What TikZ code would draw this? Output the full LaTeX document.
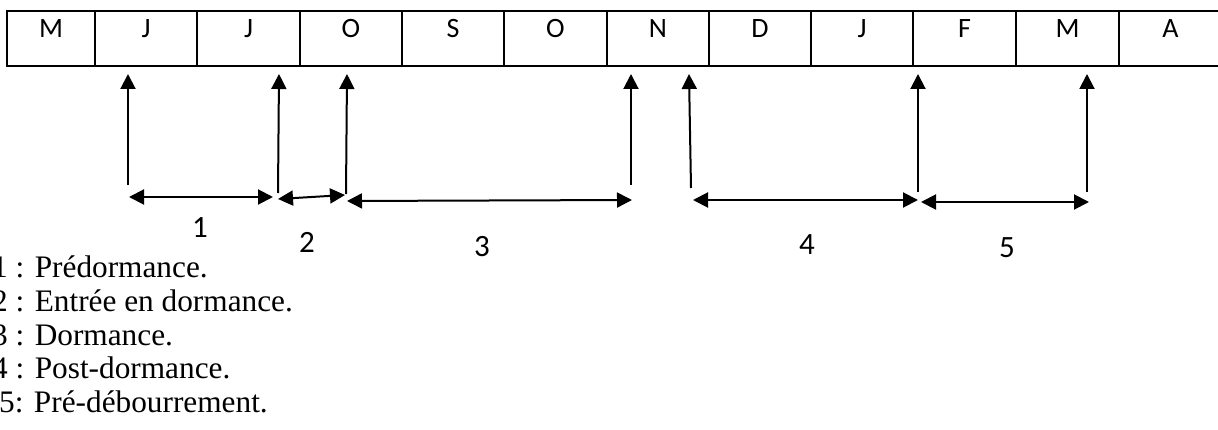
\documentclass[tikz,border=0pt]{standalone}
\usepackage{fontspec}
\setmainfont{Liberation Serif}
\newfontfamily\calib{Carlito}
\usetikzlibrary{arrows.meta}
\begin{document}
\begin{tikzpicture}[x=1pt,y=-1pt,
  cell/.style={draw,line width=2.4pt,minimum height=55pt,inner sep=0pt},
  month/.style={font=\calib\fontsize{28}{34}\selectfont,anchor=base,inner sep=0pt},
  lab/.style={font=\calib\fontsize{31}{36}\selectfont,anchor=base,inner sep=0pt},
  legend/.style={font=\fontsize{31.3}{35}\selectfont,anchor=base west,inner sep=0pt},
  tick/.style={line width=2pt,-{Triangle[length=15pt,width=15pt]}},
  span/.style={line width=2pt,{Triangle[length=15pt,width=15pt]}-{Triangle[length=15pt,width=15pt]}}]
\useasboundingbox (0,0) rectangle (1218,430);
% table cells
\node[cell,minimum width=88pt]  (c1)  at (51,38.5) {};
\node[cell,minimum width=102pt] (c2)  at (146,38.5) {};
\node[cell,minimum width=103pt] (c3)  at (248.5,38.5) {};
\node[cell,minimum width=102pt] (c4)  at (351,38.5) {};
\node[cell,minimum width=102pt] (c5)  at (453,38.5) {};
\node[cell,minimum width=103pt] (c6)  at (555.5,38.5) {};
\node[cell,minimum width=102pt] (c7)  at (658,38.5) {};
\node[cell,minimum width=102pt] (c8)  at (760,38.5) {};
\node[cell,minimum width=102pt] (c9)  at (862,38.5) {};
\node[cell,minimum width=103pt] (c10) at (964.5,38.5) {};
\node[cell,minimum width=103pt] (c11) at (1067.5,38.5) {};
\node[cell,minimum width=103pt] (c12) at (1170.5,38.5) {};
% month letters
\node[month] (m1)  at (51,38) {M};
\node[month] (m2)  at (146,38) {J};
\node[month] (m3)  at (248.5,38) {J};
\node[month] (m4)  at (351,38) {O};
\node[month] (m5)  at (453,38) {S};
\node[month] (m6)  at (555.5,38) {O};
\node[month] (m7)  at (658,38) {N};
\node[month] (m8)  at (760,38) {D};
\node[month] (m9)  at (862,38) {J};
\node[month] (m10) at (964.5,38) {F};
\node[month] (m11) at (1067.5,38) {M};
\node[month] (m12) at (1170.5,38) {A};
% vertical markers
\coordinate (t1) at (128,74);  \coordinate (b1) at (128,185);
\coordinate (t2) at (279,74);  \coordinate (b2) at (278,193);
\coordinate (t3) at (347,74);  \coordinate (b3) at (346,194);
\coordinate (t4) at (631,74);  \coordinate (b4) at (631,185);
\coordinate (t5) at (689,74);  \coordinate (b5) at (691,188);
\coordinate (t6) at (918,74);  \coordinate (b6) at (918,192);
\coordinate (t7) at (1087,74); \coordinate (b7) at (1087,192);
\foreach \i in {1,...,7} \draw[tick] (b\i) -- (t\i);
% horizontal spans
\coordinate (s1a) at (129,197); \coordinate (s1b) at (273,197);
\coordinate (s2a) at (278,199); \coordinate (s2b) at (345,195);
\coordinate (s3a) at (347,201); \coordinate (s3b) at (632,200);
\coordinate (s4a) at (693,200); \coordinate (s4b) at (918,200);
\coordinate (s5a) at (921,202); \coordinate (s5b) at (1089,202);
\foreach \i in {1,...,5} \draw[span] (s\i a) -- (s\i b);
% span labels
\node[lab] (l1) at (200,238) {1};
\node[lab] (l2) at (307,253) {2};
\node[lab] (l3) at (482,257) {3};
\node[lab] (l4) at (807,255) {4};
\node[lab] (l5) at (1007,258) {5};
% legend
\node[legend] (g1) at (-8,278) {1 : Prédormance.};
\node[legend] (g2) at (-8,311.5) {2 : Entrée en dormance.};
\node[legend] (g3) at (-8,345) {3 : Dormance.};
\node[legend] (g4) at (-8,378.5) {4 : Post-dormance.};
\node[legend] (g5) at (-1,412) {5: Pré-débourrement.};
\end{tikzpicture}
\end{document}
